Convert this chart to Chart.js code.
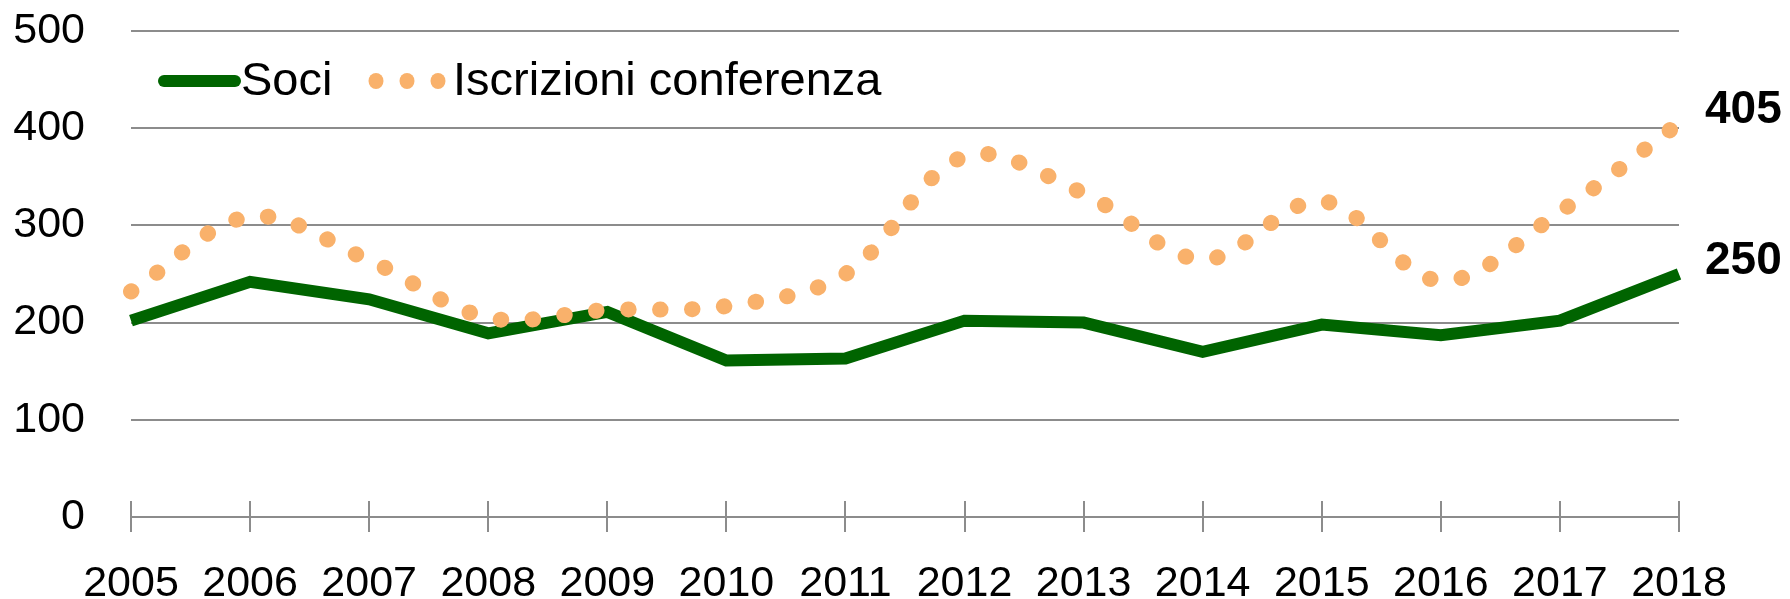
<!DOCTYPE html>
<html>
<head>
<meta charset="utf-8">
<script src="https://cdn.jsdelivr.net/npm/chart.js@4/dist/chart.umd.min.js"></script>
<style>
  body { margin: 0; background: #fff; }
  canvas { display: block; }
</style>
</head>
<body>
<canvas id="chart" width="1790" height="599"></canvas>
<script>
const years = ['2005', '2006', '2007', '2008', '2009', '2010', '2011', '2012', '2013', '2014', '2015', '2016', '2017', '2018'];
const soci = [202, 242, 224, 189, 211, 161, 163, 202, 200, 170, 198, 187, 202, 250];
const iscrizioni = [232, 309, 264, 205, 213, 217, 250, 371, 333, 265, 325, 243, 314, 405];
const yTicks = [0, 100, 200, 300, 400, 500];

const GREEN = '#006400';
const ORANGE = '#F9B16B';
const GRID = '#8c8c8c';
const FONT = "'Liberation Sans', Arial, sans-serif";

// legend drawn inside the plot, top left
const insideLegend = {
  id: 'insideLegend',
  afterDraw(chart) {
    const ctx = chart.ctx;
    const area = chart.chartArea;
    const y = area.top + 50;
    const ds = chart.data.datasets;
    ctx.save();
    ctx.font = '47px ' + FONT;
    ctx.textBaseline = 'middle';
    ctx.fillStyle = '#000';

    // Soci: solid line
    let x = area.left + 33;
    ctx.strokeStyle = ds[0].borderColor;
    ctx.lineWidth = 12;
    ctx.lineCap = 'round';
    ctx.beginPath();
    ctx.moveTo(x, y);
    ctx.lineTo(x + 71, y);
    ctx.stroke();
    ctx.fillText(ds[0].label, x + 77, y + 1);

    // Iscrizioni: three dots
    x = area.left + 245;
    ctx.fillStyle = ds[1].borderColor;
    for (let i = 0; i < 3; i++) {
      ctx.beginPath();
      ctx.ellipse(x + i * 31, y, 7.5, 8, 0, 0, Math.PI * 2);
      ctx.fill();
    }
    ctx.fillStyle = '#000';
    ctx.fillText(ds[1].label, x + 77, y + 1);
    ctx.restore();
  }
};

// tick marks crossing the category axis
const crossTicks = {
  id: 'crossTicks',
  afterDatasetsDraw(chart) {
    const ctx = chart.ctx;
    const xs = chart.scales.x;
    const bottom = chart.chartArea.bottom;
    ctx.save();
    ctx.strokeStyle = GRID;
    ctx.lineWidth = 2;
    xs.ticks.forEach((t, i) => {
      const px = Math.round(xs.getPixelForTick(i));
      ctx.beginPath();
      ctx.moveTo(px, bottom - 16);
      ctx.lineTo(px, bottom + 15);
      ctx.stroke();
    });
    ctx.restore();
  }
};

// value of the last point, right of the line end
const endLabels = {
  id: 'endLabels',
  afterDraw(chart) {
    const ctx = chart.ctx;
    ctx.save();
    ctx.font = 'bold 46px ' + FONT;
    ctx.fillStyle = '#000';
    ctx.textBaseline = 'middle';
    ctx.textAlign = 'left';
    chart.data.datasets.forEach((ds, i) => {
      const meta = chart.getDatasetMeta(i);
      const last = meta.data[meta.data.length - 1];
      ctx.fillText(String(ds.data[ds.data.length - 1]), last.x + 26, last.y - 13);
    });
    ctx.restore();
  }
};

new Chart(document.getElementById('chart'), {
  type: 'line',
  data: {
    labels: years,
    datasets: [
      {
        label: 'Soci',
        data: soci,
        borderColor: GREEN,
        borderWidth: 12,
        borderJoinStyle: 'miter',
        pointRadius: 0,
        tension: 0,
        order: 2
      },
      {
        label: 'Iscrizioni conferenza',
        data: iscrizioni,
        borderColor: ORANGE,
        borderWidth: 16,
        borderCapStyle: 'round',
        borderDash: [0.5, 31.5],
        pointRadius: 0,
        tension: 0.35,
        order: 1
      }
    ]
  },
  options: {
    responsive: false,
    animation: false,
    layout: { padding: { top: 31, right: 111, left: 0, bottom: 0 } },
    plugins: {
      legend: { display: false },
      tooltip: { enabled: false }
    },
    scales: {
      x: {
        offset: false,
        grid: { display: false },
        border: { display: false },
        ticks: {
          color: '#000',
          font: { family: FONT, size: 43 },
          padding: 33,
          maxRotation: 0,
          autoSkip: false
        },
        afterFit(scale) { scale.height = 82; }
      },
      y: {
        min: 0,
        max: 500,
        afterBuildTicks(scale) { scale.ticks = yTicks.map(v => ({ value: v })); },
        grid: { color: GRID, lineWidth: 2, drawTicks: false },
        border: { display: false },
        ticks: {
          color: '#000',
          font: { family: FONT, size: 43 },
          padding: 46
        },
        afterFit(scale) {
          scale.width = 131;
          scale.paddingTop = 0;
          scale.paddingBottom = 0;
        }
      }
    }
  },
  plugins: [insideLegend, crossTicks, endLabels]
});
</script>
</body>
</html>
